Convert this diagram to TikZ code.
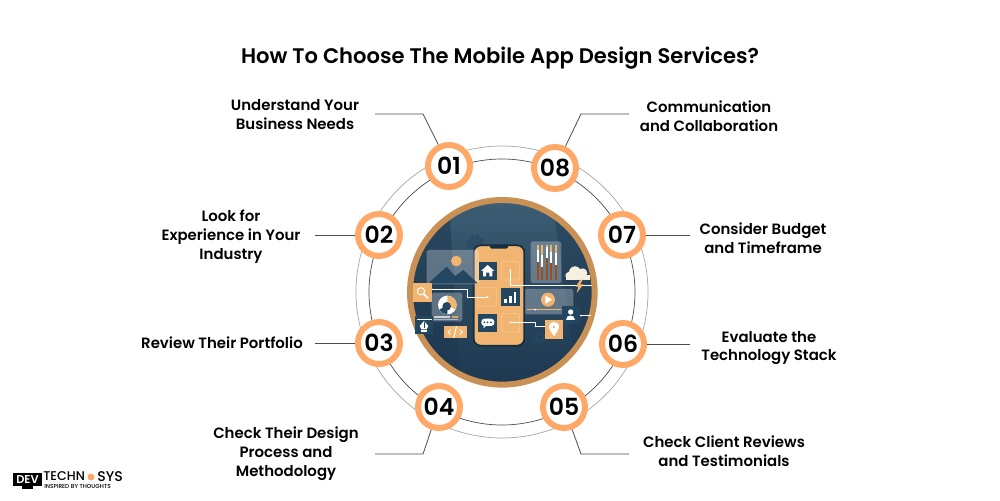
\documentclass[tikz,border=0pt]{standalone}
\usepackage{fontspec}
\setmainfont{Poppins Medium}[BoldFont={Poppins SemiBold}]
\usetikzlibrary{positioning}
\definecolor{badgeorange}{HTML}{FFA868}
\definecolor{rimbrown}{HTML}{C99155}
\definecolor{phoneorange}{HTML}{F1B471}
\definecolor{tiledark}{HTML}{234760}
\definecolor{navydark}{HTML}{1D3850}
\definecolor{navylight}{HTML}{3D5F75}
\definecolor{barbrown}{HTML}{9A4E24}
\definecolor{cloudcream}{HTML}{F7EFDF}
\tikzset{
  badge/.style={circle,draw=badgeorange,fill=white,line width=3.4pt,minimum size=0.84cm,inner sep=0pt,font=\fontsize{13.4}{13.4}\selectfont\bfseries},
  label/.style={align=center,inner sep=0pt,font=\fontsize{8.5}{10.8}\selectfont\bfseries},
  leader/.style={draw=black!70,line width=0.45pt},
  tile/.style={fill=tiledark},
  otile/.style={fill=phoneorange},
  glass/.style={fill=white,fill opacity=0.27,rounded corners=1pt},
  wire/.style={draw=white,line width=0.35pt},
  ghost/.style={draw=white,draw opacity=0.3,line width=0.3pt,rounded corners=1pt}
}
\begin{document}
\begin{tikzpicture}[x=0.02cm,y=-0.02cm]
  \useasboundingbox (0,0) rectangle (1000,500);
  \fill[white] (0,0) rectangle (1000,500);
  \node[font=\fontsize{12}{15}\selectfont\bfseries] (title) at (500,58) {How To Choose The Mobile App Design Services?};

  \draw[black!35,line width=0.4pt] (502,292) circle (146);
  \draw[black!70,line width=0.4pt] (502,292) circle (133);

  \begin{scope}[shift={(405,195)},x=0.00667cm,y=-0.00667cm]
    \begin{scope}
      \clip (292,292) circle (280);
      \shade[top color=navylight,bottom color=navydark,middle color=navydark!60!navylight] (0,0) rectangle (585,585);
      \fill[navydark,opacity=0.55] (0,0) -- (130,0) -- (170,585) -- (0,585) -- cycle;
      \fill[navydark,opacity=0.45] (440,0) -- (585,0) -- (585,585) -- (520,585) -- cycle;
      \fill[glass] (377,139) rectangle (469,264);
      \fill[glass] (358,282) rectangle (505,358);
      \fill[glass] (80,293) rectangle (172,379);
    \end{scope}
    \draw[rimbrown,line width=3.4pt] (292,292) circle (277);
    % gears
    \fill[tiledark,opacity=0.5] (212,145) circle (21);
    \draw[tiledark,opacity=0.5,line width=1.4pt,dash pattern=on 1.8pt off 1.8pt] (212,145) circle (24);
    \fill[tiledark] (403,428) circle (13);
    \draw[tiledark,line width=1pt,dash pattern=on 1.2pt off 1.2pt] (403,428) circle (16);
    \fill[navydark] (403,428) circle (5);
    % phone
    \fill[phoneorange,draw=navydark!80!black,line width=1pt,rounded corners=4pt] (206,151) rectangle (358,452);
    \fill[navydark!80!black,rounded corners=1pt] (254,150) rectangle (310,161);
    \draw[ghost] (289,199) rectangle (344,255);
    \draw[ghost] (219,277) rectangle (275,333);
    \draw[ghost] (289,355) rectangle (344,411);
    \draw[wire] (80,282) -- (188,282) -- (188,306) -- (248,306);
    \draw[wire] (316,226) -- (316,270) -- (560,270);
    \draw[wire] (316,382) -- (392,382) -- (392,394) -- (419,394);
    \draw[wire] (525,362) -- (558,362);
    \fill[white] (316,226) circle (3);
    \fill[white] (248,306) circle (3);
    \fill[white] (316,382) circle (3);
    \fill[white] (80,282) circle (3);
    \fill[white] (392,394) circle (3);
    \fill[white] (528,362) circle (3);
    % picture panel
    \fill[glass] (65,165) rectangle (222,268);
    \fill[tiledark] (70,265) -- (125,215) -- (150,243) -- (175,225) -- (218,265) -- cycle;
    \fill[phoneorange] (154,198) circle (16);
    % tiles
    \fill[tile] (221,200) rectangle (276,255);
    \fill[white] (248,210) -- (268,228) -- (262,228) -- (262,244) -- (253,244) -- (253,233) -- (243,233) -- (243,244) -- (234,244) -- (234,228) -- (228,228) -- cycle;
    \fill[tile] (289,279) rectangle (345,333);
    \fill[white] (298,311) rectangle (306,324);
    \fill[white] (312,302) rectangle (320,324);
    \fill[white] (326,291) rectangle (334,324);
    \fill[tile] (220,356) rectangle (276,411);
    \fill[white,rounded corners=1.8pt] (229,371) rectangle (268,393);
    \fill[white] (236,390) -- (236,400) -- (246,390) -- cycle;
    \fill[tiledark] (238,382) circle (3);
    \fill[tiledark] (248,382) circle (3);
    \fill[tiledark] (258,382) circle (3);
    % bars
    \foreach \xbar/\ytop in {398/190,411/205,425/180,438/195,452/200}{
      \draw[barbrown,line width=1.1pt] (\xbar,150) -- (\xbar,254);
      \draw[white,line width=1.1pt] (\xbar,\ytop-25) -- (\xbar,\ytop+10);
      \draw[phoneorange,line width=1.1pt] (\xbar,150) -- (\xbar,\ytop-25);
    }
    % cloud
    \fill[cloudcream] (492,242) circle (11);
    \fill[cloudcream] (510,232) circle (18);
    \fill[cloudcream] (533,234) circle (14);
    \fill[cloudcream] (482,240) rectangle (555,254);
    \fill[phoneorange] (526,254) -- (512,275) -- (520,275) -- (515,294) -- (535,268) -- (526,268) -- (533,254) -- cycle;
    % video
    \fill[phoneorange] (429,314) circle (21);
    \fill[white] (421,302) -- (421,326) -- (442,314) -- cycle;
    \draw[phoneorange,line width=0.6pt] (365,344) -- (468,344);
    \fill[white] (390,344) circle (3);
    % user
    \fill[tile] (470,333) rectangle (525,388);
    \fill[white] (497,351) circle (8);
    \fill[white] (484,376) .. controls (484,358) and (510,358) .. (510,376) -- cycle;
    % pin
    \fill[otile] (419,376) rectangle (475,432);
    \fill[white,even odd rule] (447,424) .. controls (436,408) and (432,402) .. (432,396) .. controls (432,376) and (462,376) .. (462,396) .. controls (462,402) and (458,408) .. (447,424) -- cycle (447,396) circle (5);
    % search
    \fill[otile] (24,265) rectangle (80,320);
    \draw[white,line width=0.6pt] (48,289) circle (11);
    \draw[white,line width=0.9pt] (56,297) -- (69,310);
    % donut
    \fill[white] (127,330) circle (28);
    \fill[phoneorange] (127,330) -- (127,302) arc[start angle=-90,end angle=30,radius=28] -- cycle;
    \fill[tiledark] (127,330) -- (103,344) arc[start angle=150,end angle=90,radius=28] -- cycle;
    \fill[tiledark] (125,334) circle (13);
    \fill[white,opacity=0.7] (88,364) rectangle (135,368);
    \fill[phoneorange,opacity=0.8] (140,364) rectangle (160,368);
    \fill[white,opacity=0.5] (88,371) rectangle (160,374);
    % pen
    \fill[tile] (30,363) rectangle (85,418);
    \fill[white] (57,378) -- (70,393) -- (65,403) -- (49,403) -- (44,393) -- cycle;
    \fill[white] (49,405) rectangle (65,412);
    \draw[tiledark,line width=0.3pt] (57,380) -- (57,400);
    \draw[white,line width=0.3pt] (35,372) -- (80,372);
    % code
    \fill[otile] (117,394) rectangle (185,428);
    \node[white,font=\fontsize{6}{6}\selectfont] (codetag) at (151,411) {</>};
  \end{scope}

  \node[badge] (b1) at (449,166) {01};
  \node[badge] (b2) at (379,235) {02};
  \node[badge] (b3) at (379,343) {03};
  \node[badge] (b4) at (439,407) {04};
  \node[badge] (b5) at (564,407) {05};
  \node[badge] (b6) at (623,344) {06};
  \node[badge] (b7) at (622,235) {07};
  \node[badge] (b8) at (555,168) {08};

  \node[label] (t1) at (295,115) {Understand Your\\Business Needs};
  \node[label] (t2) at (231,237) {Look for\\Experience in Your\\Industry};
  \node[label] (t3) at (222,343) {Review Their Portfolio};
  \node[label] (t4) at (286,454) {Check Their Design\\Process and\\Methodology};
  \node[label] (t5) at (724,451.5) {Check Client Reviews\\and Testimonials};
  \node[label] (t6) at (769,348) {Evaluate the\\Technology Stack};
  \node[label] (t7) at (763,238) {Consider Budget\\and Timeframe};
  \node[label] (t8) at (709,116) {Communication\\and Collaboration};

  \coordinate (k1) at (423,114);
  \coordinate (e1) at (375,114);
  \coordinate (e2) at (315,235);
  \coordinate (e3) at (315,343);
  \coordinate (k4) at (423,454);
  \coordinate (e4) at (375,454);
  \coordinate (k5) at (581,454);
  \coordinate (e5) at (629,454);
  \coordinate (e6) at (690,344);
  \coordinate (e7) at (690,235);
  \coordinate (k8) at (581,114);
  \coordinate (e8) at (629,114);

  \draw[leader] (e1) -- (k1) -- (b1);
  \draw[leader] (e2) -- (b2);
  \draw[leader] (e3) -- (b3);
  \draw[leader] (e4) -- (k4) -- (b4);
  \draw[leader] (e5) -- (k5) -- (b5);
  \draw[leader] (e6) -- (b6);
  \draw[leader] (e7) -- (b7);
  \draw[leader] (e8) -- (k8) -- (b8);

  % logo
  \fill[black] (13,473) rectangle (42,486);
  \fill[black] (22,486) rectangle (33,489);
  \node[white,inner sep=0pt,font=\fontsize{6.5}{6.5}\selectfont\bfseries] (logodev) at (27.5,479.5) {DEV};
  \node[inner sep=0pt,anchor=west,text depth=0pt,font=\fontsize{7.2}{7.2}\selectfont] (logotech) at (43,476.5) {TECHN};
  \node[inner sep=0pt,anchor=west,text depth=0pt,font=\fontsize{8}{7.2}\selectfont] (logosys) at (97,476.5) {SYS};
  \fill[badgeorange] (91,477) circle (3.5);
  \node[inner sep=0pt,anchor=west,font=\fontsize{3.3}{3.3}\selectfont] (logotag) at (44,486) {INSPIRED BY THOUGHTS};
\end{tikzpicture}
\end{document}
